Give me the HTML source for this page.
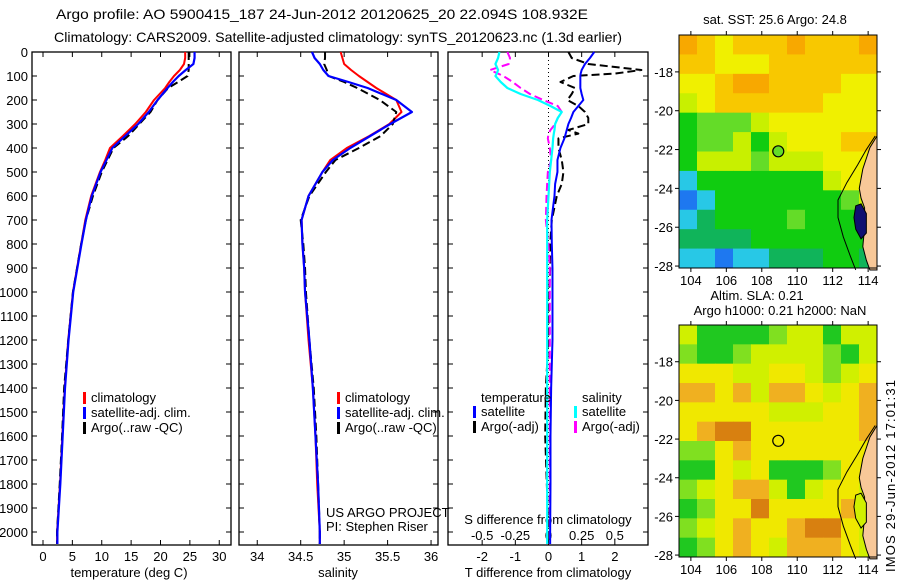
<!DOCTYPE html>
<html><head><meta charset="utf-8"><style>
html,body{margin:0;padding:0;background:#fff;}
svg text{font-family:"Liberation Sans",sans-serif;font-size:13px;fill:#000;}
</style></head><body>
<svg id="fig" width="900" height="580" viewBox="0 0 900 580" xmlns="http://www.w3.org/2000/svg">
<rect width="900" height="580" fill="#fff"/>
<text x="56" y="19" style="font-size:14px" textLength="532" lengthAdjust="spacingAndGlyphs">Argo profile: AO 5900415_187 24-Jun-2012 20120625_20 22.094S 108.932E</text>
<text x="54" y="42" style="font-size:14px" textLength="568" lengthAdjust="spacingAndGlyphs">Climatology: CARS2009. Satellite-adjusted climatology: synTS_20120623.nc (1.3d earlier)</text>
<g id="g"></g>
<text transform="translate(895,572) rotate(-90)" textLength="192">IMOS 29-Jun-2012 17:01:31</text>
</svg>
<script>
// ---------- data ----------
const depths=[0,25,50,75,100,125,150,200,250,300,350,400,450,500,600,700,800,900,1000,1200,1400,1600,1800,2000,2050];
const tempClim=[24.2,24.2,24.0,23.3,22.3,21.5,20.8,18.9,17.5,15.7,13.6,11.4,10.6,9.7,8.2,7.2,6.5,5.8,5.1,4.3,3.7,3.3,2.9,2.4,2.4];
const tempSat=[25.8,25.8,25.6,24.3,23.1,22.1,21.2,19.5,18.0,16.2,14.0,11.8,10.8,9.8,8.3,7.3,6.55,5.85,5.15,4.35,3.75,3.35,2.95,2.45,2.45];
const tempArgo=[24.8,24.8,24.8,24.8,24.6,23.0,21.3,19.5,18.3,16.4,14.5,12.0,11.0,10.0,8.5,7.3,6.5,5.8,5.1,4.3,3.6,3.25,2.85,2.4,2.4];
const salClim=[34.96,34.98,35.0,35.08,35.17,35.27,35.37,35.6,35.66,35.52,35.29,35.03,34.84,34.75,34.59,34.51,34.52,34.54,34.55,34.59,34.64,34.67,34.69,34.72,34.72];
const salSat=[34.63,34.66,34.72,34.76,34.82,35.05,35.27,35.6,35.78,35.53,35.3,35.07,34.87,34.75,34.59,34.51,34.52,34.54,34.55,34.6,34.64,34.67,34.7,34.72,34.72];
const salArgo=[34.78,34.78,34.77,34.8,34.82,35.0,35.15,35.41,35.6,35.56,35.42,35.17,34.9,34.79,34.6,34.5,34.53,34.55,34.56,34.6,34.65,34.68,34.7,34.72,34.72];
const dDepths=[0,25,50,75,90,100,125,150,175,200,225,250,275,300,325,340,360,400,450,500,550,600,700,800,900,1000,1200,1400,1600,1800,2000,2050];
const dTsat=[1.38,1.25,1.1,1.0,0.97,0.96,0.96,0.96,1.0,1.05,0.9,0.75,0.68,0.6,0.55,0.52,0.48,0.36,0.27,0.27,0.2,0.18,0.09,0.1,0.12,0.12,0.12,0.08,0.06,0.06,0.05,0.05];
const dTargo=[0.6,0.7,1.2,2.8,2.0,0.75,0.36,0.8,0.7,0.57,0.9,1.1,1.2,1.2,0.6,0.9,0.3,0.3,0.4,0.45,0.4,0.25,0.1,0.05,0.05,0.02,0.0,-0.08,-0.1,-0.05,0.0,0.0];
const dSsat=[-0.37,-0.38,-0.4,-0.38,-0.39,-0.4,-0.36,-0.31,-0.21,-0.08,0.015,0.1,0.07,0.05,0.045,0.04,0.035,0.03,0.02,0.01,0.005,0.0,-0.01,-0.01,-0.01,-0.01,-0.01,-0.01,-0.01,-0.01,-0.01,-0.01];
const dSargo=[-0.31,-0.29,-0.3,-0.44,-0.38,-0.34,-0.27,-0.21,-0.14,-0.04,0.07,0.1,0.07,0.05,0.015,0.0,-0.005,0.01,0.02,-0.005,-0.01,-0.015,-0.02,0.0,0.01,0.01,0.01,0.01,0.01,0.01,0.01,0.01];
const depthTicks=[0,100,200,300,400,500,600,700,800,900,1000,1100,1200,1300,1400,1500,1600,1700,1800,1900,2000];
const tempTicks=[0,5,10,15,20,25,30];
const salTicks=[34,34.5,35,35.5,36];
const dTTicks=[-2,-1,0,1,2];
const dSTicks=[-0.5,-0.25,0,0.25,0.5];
const lonTicks=[104,106,108,110,112,114];
const latTicks=[-18,-20,-22,-24,-26,-28];
const sstGrid=["98788898889","88777888888","77899888877","67888888777","45556777777","45564677788","46665666777","24444444677","12444444456","23444454440","33334444444","22122333443"];
const slaGrid=["64444566466","54456666546","77766776567","88786887678","77777666778","78997777778","55787777777","44767444577","56788646776","45779777787","56787789976","45787688876"];
const sstPal=["#0a1e96","#1e78f0","#28c8e6","#10b45a","#10cc10","#64dc28","#c8f000","#f0f000","#f8c800","#f8a800"];
const slaPal=["#0a1e96","#1e78f0","#28c8e6","#10b45a","#20c820","#80e020","#d0f000","#f0e800","#f0b020","#d88010"];
const landPoly=[[114.5,-21.3],[114.1,-21.9],[113.7,-23],[113.5,-24],[113.6,-24.5],[113.8,-25.0],[113.8,-26],[113.7,-27],[113.9,-27.7],[114.1,-28.2],[114.5,-28.2]];
const coastIso=[[114.4,-21.3],[113.9,-22],[113.4,-22.8],[112.8,-23.7],[112.3,-24.6],[112.3,-25.5],[112.6,-26.5],[113.0,-27.5],[113.3,-28.2]];
const sharkBay=[[113.3,-24.9],[113.6,-24.8],[113.9,-25.3],[113.9,-26.3],[113.6,-26.6],[113.3,-26.1],[113.2,-25.5]];
const argoPos=[108.93,-22.09];
// ---------- helpers ----------
const NS="http://www.w3.org/2000/svg";const G=document.getElementById('g');
function mk(t,a,p){const e=document.createElementNS(NS,t);for(const k in a)e.setAttribute(k,a[k]);(p||G).appendChild(e);return e;}
function txt(s,x,y,anchor,p){const e=mk('text',{x:x,y:y,'text-anchor':anchor||'start'},p);e.textContent=s;return e;}
const yTop=52,yPx=0.24,yBot=545;
const Y=d=>yTop+d*yPx;
function panel(name,x0,x1,xmin,xmax){
  const g=mk('g',{});
  const X=v=>x0+(v-xmin)/(xmax-xmin)*(x1-x0);
  const r=mk('rect',{x:x0,y:yTop,width:x1-x0,height:yBot-yTop,fill:'none',stroke:'#000','stroke-width':1.3},g);
  
  depthTicks.forEach(d=>{mk('line',{x1:x0,x2:x0+5,y1:Y(d),y2:Y(d),stroke:'#000'},g);mk('line',{x1:x1,x2:x1-5,y1:Y(d),y2:Y(d),stroke:'#000'},g);});
  return {g,X};
}
function line(g,X,xs,ds,color,w,dash,name){
  const p=mk('polyline',{points:xs.map((v,i)=>X(v)+','+Y(ds[i])).join(' '),fill:'none',stroke:color,'stroke-width':w,'stroke-dasharray':dash||'none','stroke-linejoin':'round'},g);
  
}
function legend(g,x,y,items){items.forEach((it,i)=>{mk('rect',{x:x,y:y+i*15-10,width:3,height:12,fill:it[1]},g);txt(it[0],x+8,y+i*15,'start',g);});}
// panel 1 temperature
let P=panel('temperature-panel',32,231,-1.87,32.0);
depthTicks.forEach(d=>{txt(String(d),28,Y(d)+5,'end',P.g);});
tempTicks.forEach(v=>{mk('line',{x1:P.X(v),x2:P.X(v),y1:yBot,y2:yBot-5,stroke:'#000'},P.g);mk('line',{x1:P.X(v),x2:P.X(v),y1:yTop,y2:yTop+5,stroke:'#000'},P.g);txt(String(v),P.X(v),561,'middle',P.g);});
txt('temperature (deg C)',129,577,'middle',P.g);
line(P.g,P.X,tempClim,depths,'#f00',2,null,'temp-climatology-line');
line(P.g,P.X,tempArgo,depths,'#000',2,'8,4','temp-argo-line');
line(P.g,P.X,tempSat,depths,'#00f',2.2,null,'temp-satellite-line');
legend(P.g,83,402,[['climatology','#f00'],['satellite-adj. clim.','#00f'],['Argo(..raw -QC)','#000']]);
// panel 2 salinity
P=panel('salinity-panel',239,438,33.79,36.08);
salTicks.forEach(v=>{mk('line',{x1:P.X(v),x2:P.X(v),y1:yBot,y2:yBot-5,stroke:'#000'},P.g);mk('line',{x1:P.X(v),x2:P.X(v),y1:yTop,y2:yTop+5,stroke:'#000'},P.g);txt(String(v),P.X(v),561,'middle',P.g);});
txt('salinity',338,577,'middle',P.g);
line(P.g,P.X,salClim,depths,'#f00',2,null,'sal-climatology-line');
line(P.g,P.X,salArgo,depths,'#000',2,'8,4','sal-argo-line');
line(P.g,P.X,salSat,depths,'#00f',2.2,null,'sal-satellite-line');
legend(P.g,337,402,[['climatology','#f00'],['satellite-adj. clim.','#00f'],['Argo(..raw -QC)','#000']]);
txt('US ARGO PROJECT',326,517,'start',P.g);txt('PI: Stephen Riser',326,531,'start',P.g);
// panel 3 differences
P=panel('difference-panel',448,648,-3.03,3.0);
const XS=v=>P.X(v*4);
mk('line',{x1:P.X(0),x2:P.X(0),y1:yTop,y2:yBot,stroke:'#000','stroke-dasharray':'1,3'},P.g);
dTTicks.forEach(v=>{mk('line',{x1:P.X(v),x2:P.X(v),y1:yBot,y2:yBot-5,stroke:'#000'},P.g);mk('line',{x1:P.X(v),x2:P.X(v),y1:yTop,y2:yTop+5,stroke:'#000'},P.g);txt(String(v),P.X(v),561,'middle',P.g);});
dSTicks.forEach(v=>{txt(String(v),XS(v),540,'middle',P.g);});
txt('S difference from climatology',548,524,'middle',P.g);
txt('T difference from climatology',548,577,'middle',P.g);
line(P.g,P.X,dTargo,dDepths,'#000',2,'8,4','dT-argo-line');
line(P.g,XS,dSargo,dDepths,'#f0f',2,'8,4','dS-argo-line');
line(P.g,P.X,dTsat,dDepths,'#00f',2,null,'dT-satellite-line');
line(P.g,XS,dSsat,dDepths,'#0ff',2.2,null,'dS-satellite-line');
txt('temperature',481,402,'start',P.g);legend(P.g,473,416,[['satellite','#00f'],['Argo(-adj)','#000']]);
txt('salinity',582,402,'start',P.g);legend(P.g,574,416,[['satellite','#0ff'],['Argo(-adj)','#f0f']]);
// maps
function map(name,y0,y1,grid,pal,title,circleFill){
  const g=mk('g',{});
  const x0=679,x1=877,lon0=103.33,lon1=114.5,lat0=-16.1,lat1=-28.1;
  const MX=v=>x0+(v-lon0)/(lon1-lon0)*(x1-x0),MY=v=>y0+(v-lat0)/(lat1-lat0)*(y1-y0);
  const cw=(lon1-lon0)/11;
  grid.forEach((row,r)=>{[...row].forEach((c,k)=>{
    const cell=mk('rect',{x:MX(lon0+k*cw),y:MY(lat0-r),width:MX(lon0+(k+1)*cw)-MX(lon0+k*cw)+0.5,height:MY(lat0-r-1)-MY(lat0-r)+0.5,fill:pal[+c]},g);
    });});
  const pts=a=>a.map(p=>MX(p[0])+','+MY(p[1])).join(' ');
  const land=mk('polygon',{points:pts(landPoly),fill:'#f8c898',stroke:'#000','stroke-width':1},g);
  
  mk('polygon',{points:pts(sharkBay),fill:name==='sst-map'?'#101070':'#d0f000',stroke:'#000'},g);
  mk('polyline',{points:pts(coastIso),fill:'none',stroke:'#000','stroke-width':1},g);
  const c=mk('circle',{cx:MX(argoPos[0]),cy:MY(argoPos[1]),r:5.5,fill:circleFill,stroke:'#000','stroke-width':1.2},g);
  
  mk('rect',{x:x0,y:y0,width:x1-x0,height:y1-y0,fill:'none',stroke:'#000'},g);
  lonTicks.forEach(v=>{mk('line',{x1:MX(v),x2:MX(v),y1:y1,y2:y1+4,stroke:'#000'},g);mk('line',{x1:MX(v),x2:MX(v),y1:y0,y2:y0-4,stroke:'#000'},g);txt(String(v),MX(v),y1+17,'middle',g);});
  latTicks.forEach(v=>{mk('line',{x1:x0,x2:x0-4,y1:MY(v),y2:MY(v),stroke:'#000'},g);mk('line',{x1:x1,x2:x1+4,y1:MY(v),y2:MY(v),stroke:'#000'},g);txt(String(v),x0-6,MY(v)+5,'end',g);});
  title.forEach(t=>txt(t[0],t[1],t[2],'middle',g));
}
map('sst-map',35,268,sstGrid,sstPal,[['sat. SST: 25.6 Argo: 24.8',775,24]],'#64dc28');
map('sla-map',325,557,slaGrid,slaPal,[['Altim. SLA: 0.21',757,300],['Argo h1000: 0.21 h2000: NaN',780,315]],'none');
</script>
</body></html>
